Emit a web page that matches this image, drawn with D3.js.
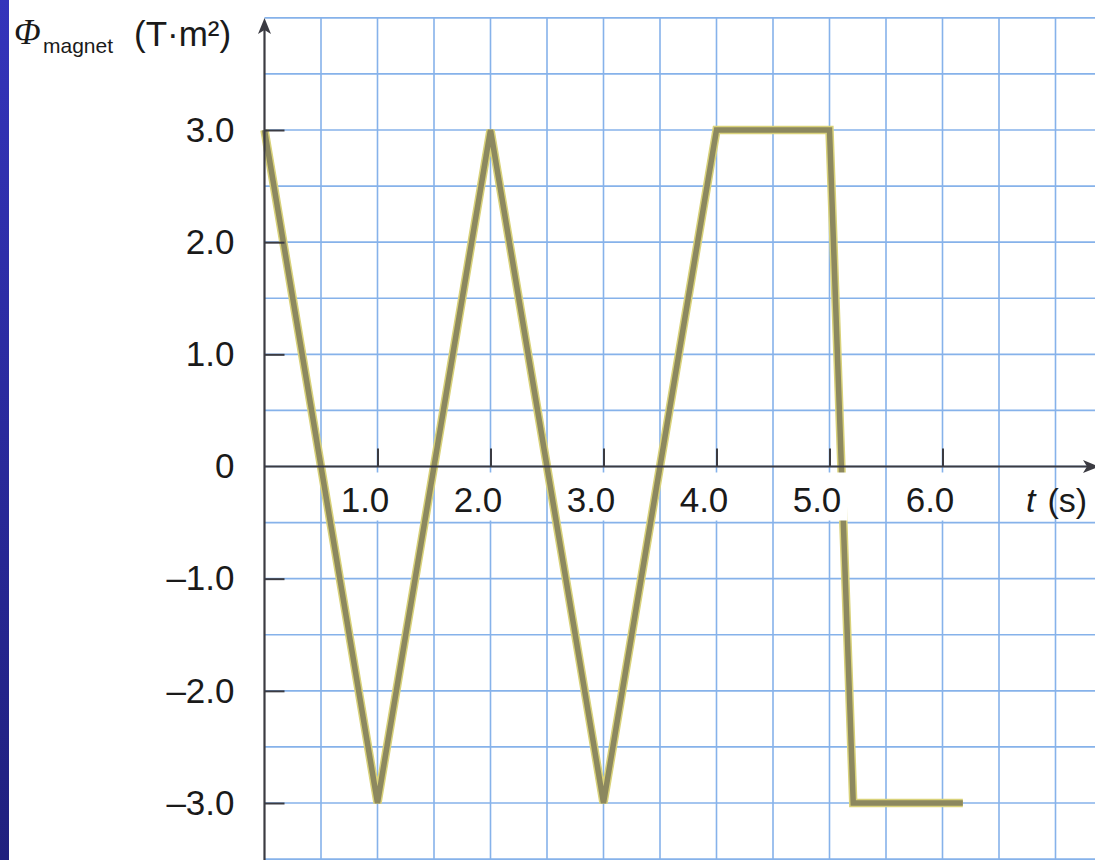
<!DOCTYPE html>
<html>
<head>
<meta charset="utf-8">
<script src="https://cdn.jsdelivr.net/npm/d3@7"></script>
<style>
  html, body { margin: 0; padding: 0; background: #ffffff; }
  svg { display: block; }
  .tick-label { font-family: "Liberation Sans", Arial, sans-serif; font-size: 35px; fill: #1a1a1a; }
</style>
</head>
<body>
<div id="chart"></div>
<script>
// Dados
const tempo = [0, 1, 2, 3, 4, 5, 5.21, 6.18];
const fluxo = [3, -3, 3, -3, 3, 3, -3, -3];
const yTicks = [-3, -2, -1, 0, 1, 2, 3];
const yTickLabels = ['–3.0', '–2.0', '–1.0', '0', '1.0', '2.0', '3.0'];
const xTicks = [1, 2, 3, 4, 5, 6];
const xTickLabels = ['1.0', '2.0', '3.0', '4.0', '5.0', '6.0'];

function drawChart() {
    const W = 1095, H = 860;
    const svg = d3.select('#chart').append('svg')
        .attr('width', W)
        .attr('height', H);

    // Escalas (0.5 unidade por quadrado da grade)
    const x = d3.scaleLinear().domain([0, 1]).range([264.5, 377.5]);
    const y = d3.scaleLinear().domain([0, 3]).range([466.5, 130]);

    // Faixa azul à esquerda
    const grad = svg.append('defs').append('linearGradient')
        .attr('id', 'faixa').attr('x1', 0).attr('y1', 0).attr('x2', 0).attr('y2', 1);
    grad.append('stop').attr('offset', '0%').attr('stop-color', '#3434bb');
    grad.append('stop').attr('offset', '100%').attr('stop-color', '#20207e');
    svg.append('rect')
        .attr('x', 0).attr('y', 0)
        .attr('width', 9).attr('height', H)
        .attr('fill', 'url(#faixa)');

    // Grade
    const gridX = d3.range(0.5, x.invert(W) + 0.01, 0.5);
    const gridY = d3.range(-3.5, 4.01, 0.5);
    const grid = svg.append('g').attr('class', 'grid')
        .attr('stroke', '#86b2ea')
        .attr('stroke-width', 1.6);
    grid.selectAll('.gv')
        .data(gridX)
        .enter().append('line')
        .attr('x1', d => x(d)).attr('x2', d => x(d))
        .attr('y1', y(4)).attr('y2', H);
    grid.selectAll('.gh')
        .data(gridY)
        .enter().append('line')
        .attr('x1', x(0)).attr('x2', W)
        .attr('y1', d => y(d)).attr('y2', d => y(d));

    // Linha do fluxo
    const pts = tempo.map((t, i) => ({ t: t, phi: fluxo[i] }));
    const line = d3.line()
        .x(d => x(d.t))
        .y(d => y(d.phi));
    svg.append('path')
        .datum(pts)
        .attr('d', line)
        .attr('fill', 'none')
        .attr('stroke', '#d9d27a')
        .attr('stroke-width', 8.5)
        .attr('stroke-linejoin', 'miter');
    svg.append('path')
        .datum(pts)
        .attr('d', line)
        .attr('fill', 'none')
        .attr('stroke', '#8c885f')
        .attr('stroke-width', 5.5)
        .attr('stroke-linejoin', 'miter');

    // Fundo branco dos rótulos do eixo t
    svg.selectAll('.label-bg')
        .data(xTicks)
        .enter().append('rect')
        .attr('x', d => x(d) - 40)
        .attr('y', y(0) + 6)
        .attr('width', 58)
        .attr('height', 48)
        .attr('fill', '#ffffff');

    // Eixos
    const axisColor = '#3b3b42';

    const yAxis = svg.append('g')
        .attr('transform', `translate(${x(0)},0)`)
        .call(d3.axisLeft(y)
            .tickValues(yTicks)
            .tickSizeInner(-20)
            .tickSizeOuter(0)
            .tickPadding(30)
            .tickFormat((d, i) => yTickLabels[i]));
    yAxis.select('.domain').remove();
    yAxis.selectAll('.tick line')
        .attr('stroke', axisColor)
        .attr('stroke-width', 2)
        .filter(d => d === 0).remove();
    yAxis.selectAll('.tick text')
        .attr('class', 'tick-label')
        .attr('fill', null);

    const xAxis = svg.append('g')
        .attr('transform', `translate(0,${y(0)})`)
        .call(d3.axisBottom(x)
            .tickValues(xTicks)
            .tickSizeInner(-18)
            .tickSizeOuter(0)
            .tickPadding(21)
            .tickFormat((d, i) => xTickLabels[i]));
    xAxis.select('.domain').remove();
    xAxis.selectAll('.tick line')
        .attr('stroke', axisColor)
        .attr('stroke-width', 2);
    xAxis.selectAll('.tick text')
        .attr('class', 'tick-label')
        .attr('fill', null)
        .attr('dx', -13);

    // Linhas dos eixos com setas
    svg.append('line')
        .attr('x1', x(0)).attr('x2', x(0))
        .attr('y1', H).attr('y2', 30)
        .attr('stroke', axisColor)
        .attr('stroke-width', 2.2);
    svg.append('path')
        .attr('d', `M${x(0)},18 L${x(0) - 6.5},34 L${x(0)},30 L${x(0) + 6.5},34 Z`)
        .attr('fill', axisColor);

    svg.append('line')
        .attr('x1', x(0)).attr('x2', W - 8)
        .attr('y1', y(0)).attr('y2', y(0))
        .attr('stroke', axisColor)
        .attr('stroke-width', 2.2);
    svg.append('path')
        .attr('d', `M${W + 4},${y(0)} L${W - 12},${y(0) - 6.5} L${W - 8},${y(0)} L${W - 12},${y(0) + 6.5} Z`)
        .attr('fill', axisColor);

    // Título do eixo vertical
    const titulo = svg.append('text')
        .attr('x', 14)
        .attr('y', 44)
        .attr('fill', '#1a1a1a');
    titulo.append('tspan')
        .attr('font-family', '"Liberation Serif", "Times New Roman", serif')
        .attr('font-style', 'italic')
        .attr('font-size', 35)
        .text('Φ');
    titulo.append('tspan')
        .attr('x', 43)
        .attr('y', 53)
        .attr('font-family', '"Liberation Sans", Arial, sans-serif')
        .attr('font-size', 21)
        .text('magnet');
    svg.append('text')
        .attr('x', 134)
        .attr('y', 46)
        .attr('fill', '#1a1a1a')
        .attr('font-family', '"Liberation Sans", Arial, sans-serif')
        .attr('font-size', 35)
        .text('(T·m²)');

    // Título do eixo horizontal
    const tLabel = svg.append('text')
        .attr('x', 1026)
        .attr('y', 512)
        .attr('fill', '#1a1a1a')
        .attr('font-family', '"Liberation Sans", Arial, sans-serif')
        .attr('font-size', 34);
    tLabel.append('tspan')
        .attr('font-style', 'italic')
        .text('t');
    tLabel.append('tspan')
        .attr('dx', 12)
        .text('(s)');
}

drawChart();
</script>
</body>
</html>
